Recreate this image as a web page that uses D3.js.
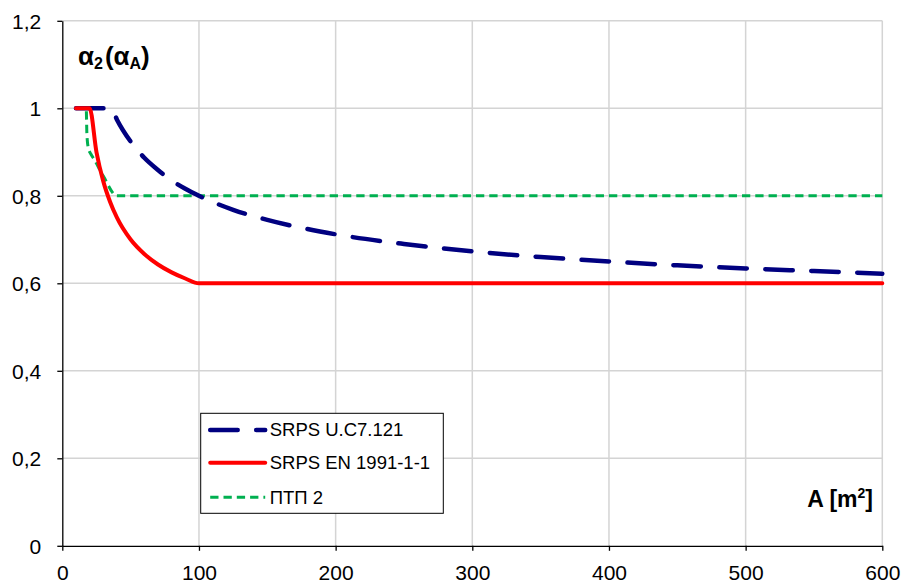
<!DOCTYPE html>
<html>
<head>
<meta charset="utf-8">
<script src="https://cdn.jsdelivr.net/npm/d3@7"></script>
<style>
  body { margin: 0; background: #fff; }
  svg { font-family: "Liberation Sans", Arial, sans-serif; }
</style>
</head>
<body>
<svg width="906" height="584"></svg>
<script>
// A [m2] and reduction factor for each code
var uc7A     = [10, 20, 30, 36, 40, 50, 60, 70, 80, 90, 100, 125, 150, 200, 250, 300, 350, 400, 450, 500, 550, 600];
var uc7Alpha = [1, 1, 1, 1, 0.974, 0.924, 0.887, 0.859, 0.835, 0.816, 0.8, 0.768, 0.745, 0.712, 0.69, 0.673, 0.66, 0.65, 0.641, 0.634, 0.628, 0.622];

var enA      = [10, 20, 25, 30, 35, 40, 50, 60, 70, 80, 90, 100, 600];
var enAlpha  = [1, 1, 0.9, 0.833, 0.786, 0.75, 0.7, 0.667, 0.643, 0.625, 0.611, 0.6, 0.6];

var ptpA     = [10, 17.5, 18, 19, 21, 23, 30, 40, 600];
var ptpAlpha = [1, 1, 0.94, 0.91, 0.895, 0.885, 0.845, 0.8, 0.8];

var xTicks = [0, 100, 200, 300, 400, 500, 600];
var yTicks = [0, 0.2, 0.4, 0.6, 0.8, 1, 1.2];

var series = [
    { name: "ПТП 2",            A: ptpA, v: ptpAlpha, color: "#00b050", width: 3,   dash: "8.3,5",     cap: "butt" },
    { name: "SRPS U.C7.121",    A: uc7A, v: uc7Alpha, color: "#000080", width: 4.5, dash: "27.5,18.5", cap: "round" },
    { name: "SRPS EN 1991-1-1", A: enA,  v: enAlpha,  color: "#ff0000", width: 4,   dash: null,        cap: "round" }
];

var svg = d3.select("svg");
var margin = { top: 20.8, left: 62.3 },
    width = 820,
    height = 525,
    g = svg.append("g").attr("transform", "translate(" + margin.left + "," + margin.top + ")");

var x = d3.scaleLinear().domain([0, 600]).range([0, width]);
var y = d3.scaleLinear().domain([0, 1.2]).range([height, 0]);

// grid
g.append("g").selectAll("line")
    .data(yTicks.filter(function(d) { return d > 0; }))
    .enter().append("line")
    .attr("x1", 0).attr("x2", width)
    .attr("y1", function(d) { return y(d); }).attr("y2", function(d) { return y(d); })
    .attr("stroke", "#d4d4d4").attr("stroke-width", 1.5);

g.append("g").selectAll("line")
    .data(xTicks.filter(function(d) { return d > 0; }))
    .enter().append("line")
    .attr("y1", 0).attr("y2", height)
    .attr("x1", function(d) { return x(d); }).attr("x2", function(d) { return x(d); })
    .attr("stroke", "#d4d4d4").attr("stroke-width", 1.5);

// axes
var fmt = function(d) { return String(d).replace(".", ","); };

var xAxis = g.append("g")
    .attr("transform", "translate(0," + height + ")")
    .call(d3.axisBottom(x).tickValues(xTicks).tickSize(5).tickPadding(14).tickSizeOuter(0).tickFormat(fmt));

var yAxis = g.append("g")
    .call(d3.axisLeft(y).tickValues(yTicks).tickSize(5).tickPadding(16).tickSizeOuter(0).tickFormat(fmt));

[xAxis, yAxis].forEach(function(a) {
    a.attr("font-family", null).attr("font-size", 21);
    a.selectAll("path, line").attr("stroke", "#000").attr("stroke-width", 1.3);
    a.selectAll("text").attr("fill", "#000");
});
yAxis.selectAll("text").attr("dy", "0.36em");

// lines
var line = d3.line()
    .x(function(d) { return x(d[0]); })
    .y(function(d) { return y(d[1]); })
    .curve(d3.curveMonotoneX);

series.forEach(function(s) {
    g.append("path")
        .datum(d3.zip(s.A, s.v))
        .attr("d", line)
        .attr("fill", "none")
        .attr("stroke", s.color)
        .attr("stroke-width", s.width)
        .attr("stroke-dasharray", s.dash)
        .attr("stroke-linecap", s.cap)
        .attr("stroke-linejoin", "round");
});

// axis titles
var yt = svg.append("text")
    .attr("x", 78).attr("y", 65)
    .attr("font-size", 26).attr("font-weight", "bold");
yt.append("tspan").text("α");
yt.append("tspan").attr("font-size", 16).attr("dy", 4).text("2");
yt.append("tspan").attr("dy", -4).attr("dx", 2).text("(α");
yt.append("tspan").attr("font-size", 16).attr("dy", 4).text("A");
yt.append("tspan").attr("dy", -4).text(")");

var xt = svg.append("text")
    .attr("x", 873).attr("y", 507)
    .attr("text-anchor", "end")
    .attr("font-size", 23).attr("font-weight", "bold");
xt.append("tspan").text("A [m");
xt.append("tspan").attr("font-size", 14).attr("dy", -9).text("2");
xt.append("tspan").attr("dy", 9).text("]");

// legend
var legend = svg.append("g").attr("transform", "translate(200.7,413.3)");
legend.append("rect")
    .attr("width", 242.6).attr("height", 100)
    .attr("fill", "#fff").attr("stroke", "#000").attr("stroke-width", 1);

var legendOrder = [series[1], series[2], series[0]];
var rowY = [16.7, 49.4, 84];
legendOrder.forEach(function(s, i) {
    legend.append("line")
        .attr("x1", 9.5).attr("x2", 64.5)
        .attr("y1", rowY[i]).attr("y2", rowY[i])
        .attr("stroke", s.color)
        .attr("stroke-width", s.width)
        .attr("stroke-dasharray", s.dash)
        .attr("stroke-linecap", s.cap);
    legend.append("text")
        .attr("x", 69).attr("y", rowY[i] + 6.5)
        .attr("font-size", 18.5)
        .text(s.name);
});
</script>
</body>
</html>
